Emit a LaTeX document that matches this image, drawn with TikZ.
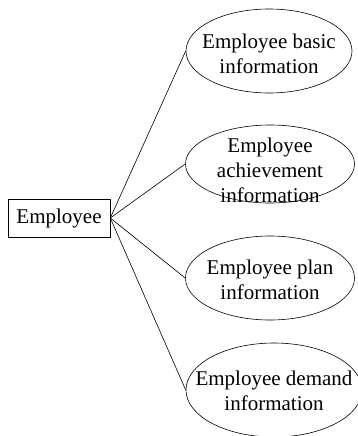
\documentclass[tikz,border=0pt]{standalone}
\usepackage{fontspec}
\setmainfont{Liberation Serif}
\usetikzlibrary{shapes.geometric}

\begin{document}
\begin{tikzpicture}[
                x=1pt, y=-1pt,
                every node/.style={font=\fontsize{21}{25}\selectfont},
                box/.style={draw, rectangle, minimum width=102pt, minimum height=38pt, inner sep=0pt},
                info/.style={draw, ellipse, inner sep=0pt},
                line width=0.6pt
            ]
                \useasboundingbox (0, 0) rectangle (358, 436);

                \node[box] (emp) at (59, 218) {Employee};

                \node[info, minimum width=166pt, minimum height=84pt,
                    label={[align=center, yshift=-3pt]center:Employee basic\\information}] (basic) at (269, 51) {};
                \node[info, minimum width=169pt, minimum height=78pt,
                    label={[align=center, yshift=-6pt]center:Employee\\achievement\\information}] (achieve) at (270, 164) {};
                \node[info, minimum width=169pt, minimum height=84pt,
                    label={[align=center, yshift=-2pt]center:Employee plan\\information}] (plan) at (270, 278) {};
                \node[info, minimum width=176pt, minimum height=94pt,
                    label={[align=center, yshift=-1pt]center:Employee demand\\information}] (demand) at (274, 390) {};

                \foreach \n in {basic, achieve, plan, demand} {
                    \draw (emp.east) -- (\n.west);
                }
            \end{tikzpicture}
\end{document}
